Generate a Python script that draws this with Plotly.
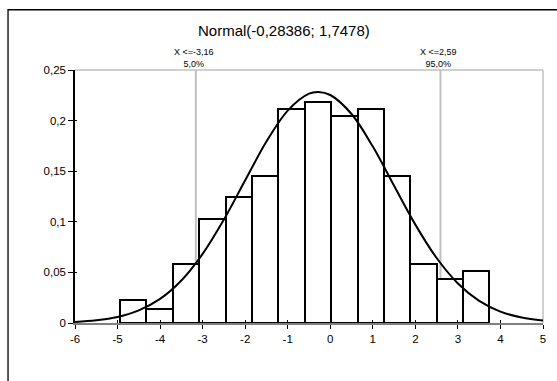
import plotly.graph_objects as go

# ---- data ----
bin_edges = [-4.94, -4.32, -3.70, -3.08, -2.46, -1.84, -1.22, -0.60, 0.02,
             0.64, 1.26, 1.88, 2.50, 3.12, 3.74]
bin_heights = [0.0225, 0.0143, 0.0585, 0.1026, 0.1244, 0.1455, 0.2117,
               0.2187, 0.2044, 0.2117, 0.1455, 0.0585, 0.0437, 0.0513]

curve_x = [-6, -5.5, -5, -4.5, -4, -3.5, -3, -2.5, -2, -1.5, -1, -0.5, -0.28,
           0, 0.5, 1, 1.5, 2, 2.5, 3, 3.5, 4, 4.5, 5]
curve_y = [0.0011, 0.0027, 0.0060, 0.0125, 0.0238, 0.0420, 0.0683, 0.1022,
           0.1410, 0.1793, 0.2099, 0.2266, 0.2283, 0.2253, 0.2065, 0.1743,
           0.1356, 0.0972, 0.0642, 0.0391, 0.0219, 0.0113, 0.0054, 0.0024]

marker_x = [-3.16, 2.59]
marker_labels = ["X <=-3,16<br>5,0%", "X <=2,59<br>95,0%"]

x_ticks = [-6, -5, -4, -3, -2, -1, 0, 1, 2, 3, 4, 5]
x_tick_text = ["-6", "-5", "-4", "-3", "-2", "-1", "0", "1", "2", "3", "4", "5"]
y_ticks = [0, 0.05, 0.1, 0.15, 0.2, 0.25]
y_tick_text = ["0", "0,05", "0,1", "0,15", "0,2", "0,25"]

title_text = "Normal(-0,28386; 1,7478)"

# ---- figure ----
centers = [(bin_edges[i] + bin_edges[i + 1]) / 2 for i in range(len(bin_heights))]
widths = [bin_edges[i + 1] - bin_edges[i] for i in range(len(bin_heights))]

FONT = "Arial, Liberation Sans, sans-serif"
W, H = 557, 381
L, R, T, B = 75, 10.3, 70.3, 58.3
pw, ph = W - L - R, H - T - B

def px_to_paper_x(px):
    return (px - L) / pw

def px_to_paper_y(py):
    return (H - B - py) / ph

fig = go.Figure()

fig.add_trace(go.Bar(
    x=centers, y=bin_heights, width=widths,
    marker=dict(color="white", line=dict(color="black", width=2)),
    showlegend=False, hoverinfo="skip",
))

fig.add_trace(go.Scatter(
    x=curve_x, y=curve_y, mode="lines",
    line=dict(color="black", width=2, shape="spline", smoothing=1.0),
    showlegend=False, hoverinfo="skip",
))

# invisible trace on overlay axes for the "cross" tick marks
fig.add_trace(go.Scatter(x=[-6, 5], y=[0, 0.25], xaxis="x2", yaxis="y2",
                         mode="markers", marker=dict(opacity=0),
                         showlegend=False, hoverinfo="skip"))

shapes = []
shapes.append(dict(type="line", xref="paper", yref="paper", x0=0, x1=1, y0=1, y1=1,
                   line=dict(color="#c0c0c0", width=1.5), layer="below"))
shapes.append(dict(type="line", xref="paper", yref="paper", x0=1, x1=1, y0=0, y1=1,
                   line=dict(color="#c0c0c0", width=1.5), layer="below"))
for mx in marker_x:
    shapes.append(dict(type="line", xref="x", yref="paper", x0=mx, x1=mx, y0=0, y1=1,
                       line=dict(color="#c0c0c0", width=2), layer="below"))
shapes.append(dict(type="rect", xref="paper", yref="paper",
                   x0=px_to_paper_x(7.5), x1=px_to_paper_x(575),
                   y0=px_to_paper_y(400), y1=px_to_paper_y(10.2),
                   line=dict(color="black", width=1.3), fillcolor="rgba(0,0,0,0)"))

annotations = [dict(text=title_text, xref="paper", yref="paper",
                    x=px_to_paper_x(286), y=px_to_paper_y(31),
                    xanchor="center", yanchor="middle", showarrow=False,
                    font=dict(family=FONT, size=15, color="black"))]
for mx, lab in zip(marker_x, marker_labels):
    annotations.append(dict(text=lab, xref="x", yref="paper", x=mx,
                            y=px_to_paper_y(58.5), xanchor="center", yanchor="middle",
                            xshift=-2, showarrow=False,
                            font=dict(family=FONT, size=9, color="black")))

fig.update_layout(
    width=W, height=H, autosize=False,
    margin=dict(l=L, r=R, t=T, b=B, pad=0),
    paper_bgcolor="white", plot_bgcolor="white",
    bargap=0, barmode="overlay",
    shapes=shapes, annotations=annotations,
    font=dict(family=FONT, size=11.5, color="black"),
    xaxis=dict(range=[-6, 5], tickvals=x_ticks, ticktext=x_tick_text,
               showgrid=False, zeroline=False, showline=True,
               linecolor="#808080", linewidth=1.5,
               ticks="outside", ticklen=4, tickcolor="black", tickwidth=1,
               tickfont=dict(family=FONT, size=11.5, color="black")),
    yaxis=dict(range=[0, 0.25], tickvals=y_ticks, ticktext=y_tick_text,
               showgrid=False, zeroline=False, showline=True,
               linecolor="black", linewidth=1.5,
               ticks="outside", ticklen=5, tickcolor="black", tickwidth=1,
               tickfont=dict(family=FONT, size=11.5, color="black")),
    xaxis2=dict(range=[-6, 5], overlaying="x", tickvals=x_ticks, showticklabels=False,
                ticks="inside", ticklen=3, tickcolor="black", tickwidth=1,
                showgrid=False, zeroline=False, showline=False),
    yaxis2=dict(range=[0, 0.25], overlaying="y", tickvals=y_ticks, showticklabels=False,
                ticks="inside", ticklen=2, tickcolor="black", tickwidth=1,
                showgrid=False, zeroline=False, showline=False),
)

fig.write_html("out.html", post_script="document.body.style.margin='0px';",
               config={"displayModeBar": False})
